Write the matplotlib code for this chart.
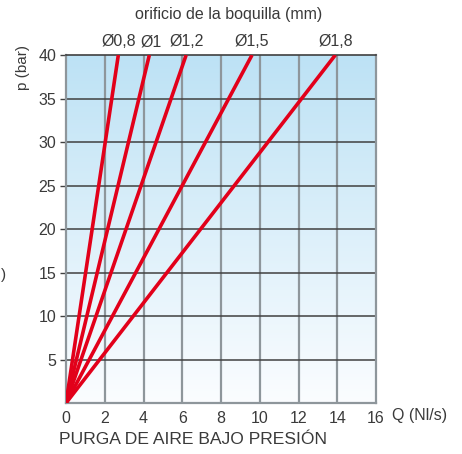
import matplotlib.pyplot as plt
import numpy as np
from matplotlib.colors import LinearSegmentedColormap

plt.rcParams['font.family'] = ['Liberation Sans', 'DejaVu Sans']

# boquillas y caudal a 40 bar (líneas rectas desde el origen)
nozzles = ['Ø0,8', 'Ø1', 'Ø1,2', 'Ø1,5', 'Ø1,8']
q_at_max = [2.7, 4.3, 6.2, 9.6, 13.9]
label_pos = [2.7, 4.4, 6.2, 9.6, 13.9]
p_max = 40
x_ticks = [0, 2, 4, 6, 8, 10, 12, 14, 16]
y_ticks = [5, 10, 15, 20, 25, 30, 35, 40]

txt = '#3a3a3a'
red = '#e2001a'

fig = plt.figure(figsize=(4.62, 4.54), dpi=100)
ax = fig.add_axes([0.1429, 0.1123, 0.671, 0.7665])

# fondo degradado azul claro -> blanco
grad = np.linspace(0, 1, 256).reshape(-1, 1)
cmap = LinearSegmentedColormap.from_list('bg', ['#fbfdff', '#bde2f5'])
ax.imshow(grad, extent=[0, 16, 0, 40], origin='lower', aspect='auto',
          cmap=cmap, zorder=0)

ax.set_xlim(0, 16)
ax.set_ylim(0, 40)

for x in x_ticks[1:-1]:
    ax.axvline(x, color='#8e969b', lw=1.6, zorder=1)
for y in y_ticks[:-1]:
    ax.axhline(y, color='#404040', lw=1.1, zorder=1)

for q in q_at_max:
    ax.plot([0, q], [0, p_max], color=red, lw=2.6, zorder=3,
            solid_capstyle='butt')

for side in ['left', 'bottom', 'right']:
    ax.spines[side].set_color('#8e969b')
    ax.spines[side].set_linewidth(1.6)
ax.spines['top'].set_color('#404040')
ax.spines['top'].set_linewidth(1.2)

ax.set_xticks(x_ticks)
ax.set_yticks(y_ticks)
ax.tick_params(axis='x', length=0, pad=6, labelsize=11.5, labelcolor=txt)
ax.tick_params(axis='y', length=4, width=1, color='#404040', pad=3,
               labelsize=11.5, labelcolor=txt)

ax.set_ylabel('p (bar)', fontsize=11, color=txt)
ax.yaxis.set_label_coords(-0.115, 0.965)

ax.text(16.85, -1.45, 'Q (Nl/s)', fontsize=11.5, color=txt,
        ha='left', va='center')

top = ax.secondary_xaxis('top')
top.set_xticks(label_pos)
top.set_xticklabels(nozzles)
top.tick_params(length=0, pad=4, labelsize=11.5, labelcolor=txt)
top.spines['top'].set_visible(False)

fig.text(0.494, 0.968, 'orificio de la boquilla (mm)', ha='center', va='center',
         fontsize=11.5, color=txt)
fig.text(0.128, 0.033, 'PURGA DE AIRE BAJO PRESIÓN', ha='left', va='center',
         fontsize=12.6, color=txt)
fig.text(0.001, 0.395, ')', ha='left', va='center', fontsize=11, color=txt)

fig.savefig('out.png', dpi=100)
